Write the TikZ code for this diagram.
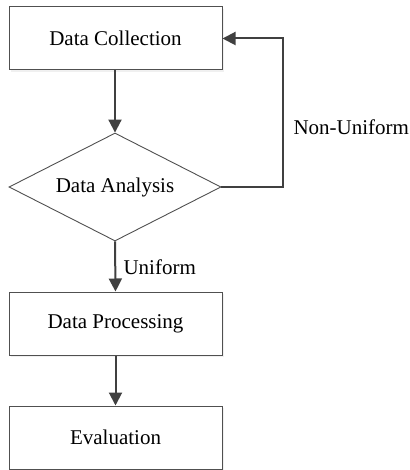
\documentclass[tikz,border=0pt]{standalone}
\usepackage{fontspec}
\setmainfont{Liberation Serif}
\usetikzlibrary{arrows.meta,shapes.geometric}
\definecolor{edge}{HTML}{404040}
\definecolor{frame}{HTML}{505050}
\begin{document}
\begin{tikzpicture}[x=1pt,y=-1pt,
  lbl/.style={font=\fontsize{21}{25}\selectfont, text=black},
  stepbox/.style={draw=frame, line width=1pt, fill=white, minimum width=213pt, minimum height=63pt, inner sep=0pt, lbl},
  decision/.style={draw=frame, line width=0.9pt, fill=white, diamond, aspect=1.963, minimum width=212pt, minimum height=108pt, inner sep=0pt, lbl},
  shade/.style={fill=black!6, draw=none},
  flow/.style={draw=edge, line width=2pt, -{Triangle[width=13pt,length=13pt]}}]
  \useasboundingbox (0,0) rectangle (409,470);
  % soft offset shadows behind the boxes
  \fill[shade] (11,9) rectangle (224,72);
  \fill[shade] (11,294) rectangle (224,357);
  \fill[shade] (11,408) rectangle (224,471);
  \node[stepbox] (collect) at (115.5,38.5) {Data Collection};
  \node[decision] (analysis) at (115,187) {Data Analysis};
  \node[stepbox] (process) at (115.5,323.5) {Data Processing};
  \node[stepbox] (eval) at (115.5,437.5) {Evaluation};
  \coordinate (turn) at (283,187);
  \draw[flow] (collect.south -| analysis.north) -- (analysis.north);
  \draw[flow] (analysis.east) -- (turn) |- (collect.east);
  \node[lbl, anchor=west] (nonuni) at (290,127) {Non-Uniform};
  \draw[flow] (analysis.south) -- node[lbl, anchor=west, xshift=4pt, yshift=-1pt] (uni) {Uniform} (process.north);
  \draw[flow] (process.south) -- (eval.north);
\end{tikzpicture}
\end{document}
